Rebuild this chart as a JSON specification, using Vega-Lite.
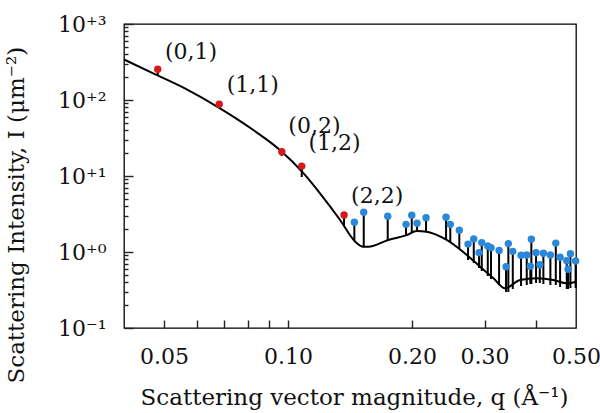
{
  "$schema": "https://vega.github.io/schema/vega-lite/v6.json",
  "width": 452,
  "height": 304,
  "autosize": {"type": "none"},
  "padding": {"left": 124, "top": 24, "right": 24, "bottom": 85},
  "background": "white",
  "config": {
    "view": {"stroke": "#000000", "strokeWidth": 1.3},
    "font": "DejaVu Serif",
    "axis": {
      "grid": false,
      "domain": false,
      "labelFont": "DejaVu Serif",
      "labelFontSize": 22,
      "labelColor": "#111111",
      "titleFont": "DejaVu Serif",
      "titleFontSize": 23,
      "titleFontWeight": "normal",
      "titleColor": "#111111"
    }
  },
  "resolve": {"axis": {"x": "independent", "y": "independent"}},
  "datasets": {
    "curve": [
      {"q": 0.0400, "I": 341},
      {"q": 0.0471, "I": 224},
      {"q": 0.0568, "I": 138},
      {"q": 0.0684, "I": 77.8},
      {"q": 0.0824, "I": 40.3},
      {"q": 0.0956, "I": 22.0},
      {"q": 0.1090, "I": 10.9},
      {"q": 0.1196, "I": 5.92},
      {"q": 0.1338, "I": 2.64},
      {"q": 0.1455, "I": 1.37},
      {"q": 0.1524, "I": 1.17},
      {"q": 0.1567, "I": 1.17},
      {"q": 0.1752, "I": 1.44},
      {"q": 0.1942, "I": 1.67},
      {"q": 0.2053, "I": 1.89},
      {"q": 0.2171, "I": 1.85},
      {"q": 0.2428, "I": 1.44},
      {"q": 0.2715, "I": 0.914},
      {"q": 0.2925, "I": 0.641},
      {"q": 0.3152, "I": 0.451},
      {"q": 0.3364, "I": 0.333},
      {"q": 0.3658, "I": 0.428},
      {"q": 0.4016, "I": 0.451},
      {"q": 0.4405, "I": 0.428},
      {"q": 0.4749, "I": 0.387},
      {"q": 0.5000, "I": 0.406}
    ],
    "peaks": [
      {"q": 0.0483, "peak": 253.5, "base": 212, "kind": "indexed"},
      {"q": 0.0681, "peak": 87.8, "base": 78.5, "kind": "indexed"},
      {"q": 0.0966, "peak": 20.9, "base": 18.3, "kind": "indexed"},
      {"q": 0.1080, "peak": 13.5, "base": 9.7, "kind": "indexed"},
      {"q": 0.1368, "peak": 3.07, "base": 2.2, "kind": "indexed"},
      {"q": 0.1449, "peak": 2.46, "base": 1.40, "kind": "other"},
      {"q": 0.1527, "peak": 3.33, "base": 1.16, "kind": "other"},
      {"q": 0.1746, "peak": 2.95, "base": 1.40, "kind": "other"},
      {"q": 0.1934, "peak": 2.31, "base": 1.67, "kind": "other"},
      {"q": 0.1997, "peak": 3.04, "base": 1.78, "kind": "other"},
      {"q": 0.2057, "peak": 2.39, "base": 1.89, "kind": "other"},
      {"q": 0.2163, "peak": 2.83, "base": 1.83, "kind": "other"},
      {"q": 0.2419, "peak": 2.86, "base": 1.44, "kind": "other"},
      {"q": 0.2477, "peak": 2.31, "base": 1.35, "kind": "other"},
      {"q": 0.2605, "peak": 1.93, "base": 1.10, "kind": "other"},
      {"q": 0.2735, "peak": 1.27, "base": 0.785, "kind": "other"},
      {"q": 0.2824, "peak": 1.48, "base": 0.717, "kind": "other"},
      {"q": 0.2909, "peak": 0.979, "base": 0.616, "kind": "other"},
      {"q": 0.2953, "peak": 1.33, "base": 0.562, "kind": "other"},
      {"q": 0.3054, "peak": 1.20, "base": 0.483, "kind": "other"},
      {"q": 0.3110, "peak": 1.14, "base": 0.441, "kind": "other"},
      {"q": 0.3253, "peak": 1.05, "base": 0.368, "kind": "other"},
      {"q": 0.3382, "peak": 0.641, "base": 0.298, "kind": "other"},
      {"q": 0.3426, "peak": 1.29, "base": 0.298, "kind": "other"},
      {"q": 0.3512, "peak": 1.02, "base": 0.326, "kind": "other"},
      {"q": 0.3678, "peak": 0.905, "base": 0.357, "kind": "other"},
      {"q": 0.3797, "peak": 0.913, "base": 0.368, "kind": "other"},
      {"q": 0.3874, "peak": 0.648, "base": 0.379, "kind": "other"},
      {"q": 0.3896, "peak": 1.47, "base": 0.379, "kind": "other"},
      {"q": 0.4000, "peak": 0.979, "base": 0.391, "kind": "other"},
      {"q": 0.4084, "peak": 0.681, "base": 0.391, "kind": "other"},
      {"q": 0.4167, "peak": 0.961, "base": 0.379, "kind": "other"},
      {"q": 0.4333, "peak": 0.913, "base": 0.368, "kind": "other"},
      {"q": 0.4466, "peak": 1.31, "base": 0.368, "kind": "other"},
      {"q": 0.4575, "peak": 0.852, "base": 0.346, "kind": "other"},
      {"q": 0.4749, "peak": 0.768, "base": 0.326, "kind": "other"},
      {"q": 0.4784, "peak": 0.592, "base": 0.326, "kind": "other"},
      {"q": 0.4846, "peak": 0.950, "base": 0.336, "kind": "other"},
      {"q": 0.4989, "peak": 0.761, "base": 0.336, "kind": "other"}
    ],
    "labels": [
      {"q": 0.0503, "I": 421.7, "label": "(0,1)"},
      {"q": 0.0710, "I": 157.6, "label": "(1,1)"},
      {"q": 0.1002, "I": 45.5, "label": "(0,2)"},
      {"q": 0.1121, "I": 27.2, "label": "(1,2)"},
      {"q": 0.1423, "I": 5.46, "label": "(2,2)"}
    ]
  },
  "layer": [
    {
      "data": {"name": "curve"},
      "mark": {"type": "line", "color": "black", "strokeWidth": 2, "interpolate": "monotone"},
      "encoding": {
        "x": {
          "field": "q", "type": "quantitative",
          "scale": {"type": "log", "domain": [0.04, 0.5], "nice": false},
          "axis": {
            "orient": "bottom",
            "title": "Scattering vector magnitude, q (Å⁻¹)",
            "values": [0.05, 0.1, 0.2, 0.3, 0.5],
            "format": ".2f",
            "ticks": false,
            "labelFlush": false,
            "labelOverlap": false,
            "labelBaseline": "top",
            "labelPadding": 18,
            "titleX": 230,
            "titleY": 76,
            "titleAlign": "center",
            "titleBaseline": "alphabetic",
            "titleAnchor": null
          }
        },
        "y": {
          "field": "I", "type": "quantitative",
          "scale": {"type": "log", "domain": [0.1, 1000], "nice": false},
          "axis": {
            "orient": "left",
            "title": "Scattering Intensity, I (μm⁻²)",
            "values": [0.1, 1, 10, 100, 1000],
            "labelExpr": "datum.value == 0.1 ? '10⁻¹' : datum.value == 1 ? '10⁺⁰' : datum.value == 10 ? '10⁺¹' : datum.value == 100 ? '10⁺²' : '10⁺³'",
            "ticks": false,
            "labelOverlap": false,
            "labelFlush": false,
            "labelBaseline": "middle",
            "labelPadding": 18,
            "titleAngle": 270,
            "titleX": -101,
            "titleY": 359,
            "titleAlign": "left",
            "titleBaseline": "alphabetic",
            "titleAnchor": null
          }
        }
      }
    },
    {
      "data": {"name": "peaks"},
      "mark": {"type": "rule", "color": "black", "strokeWidth": 2},
      "encoding": {
        "x": {
          "field": "q", "type": "quantitative",
          "axis": {
            "orient": "top",
            "offset": -304,
            "title": null,
            "labels": false,
            "ticks": true,
            "tickColor": "#222222",
            "tickWidth": 1.4,
            "values": [0.05, 0.06, 0.07, 0.08, 0.09, 0.1, 0.2, 0.3, 0.4],
            "tickSize": 8
          }
        },
        "y": {
          "field": "base", "type": "quantitative",
          "axis": {
            "orient": "right",
            "offset": -452,
            "title": null,
            "labels": false,
            "ticks": true,
            "tickColor": "#222222",
            "tickWidth": 1.4,
            "values": [0.2, 0.3, 0.4, 0.5, 0.6, 0.7, 0.8, 0.9, 2, 3, 4, 5, 6, 7, 8, 9, 20, 30, 40, 50, 60, 70, 80, 90, 200, 300, 400, 500, 600, 700, 800, 900],
            "tickSize": 4
          }
        },
        "y2": {"field": "peak"}
      }
    },
    {
      "data": {"name": "peaks"},
      "mark": {"type": "point", "filled": true, "size": 55, "opacity": 1, "clip": false},
      "encoding": {
        "x": {"field": "q", "type": "quantitative", "axis": null},
        "y": {
          "field": "peak", "type": "quantitative",
          "axis": {
            "orient": "right",
            "offset": -452,
            "title": null,
            "labels": false,
            "ticks": true,
            "tickColor": "#222222",
            "tickWidth": 1.4,
            "values": [0.1, 1, 10, 100, 1000],
            "tickSize": 9
          }
        },
        "color": {"field": "kind", "type": "nominal", "scale": {"domain": ["indexed", "other"], "range": ["#d7191c", "#2b87d8"]}, "legend": null}
      }
    },
    {
      "data": {"name": "labels"},
      "mark": {"type": "text", "align": "left", "baseline": "middle", "fontSize": 22, "font": "DejaVu Serif", "color": "#111111"},
      "encoding": {
        "x": {"field": "q", "type": "quantitative", "axis": null},
        "y": {"field": "I", "type": "quantitative", "axis": null},
        "text": {"field": "label"}
      }
    }
  ]
}
